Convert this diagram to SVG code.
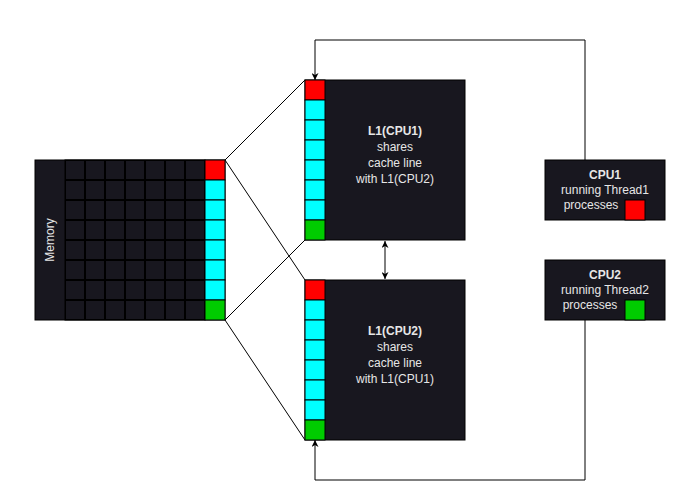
<svg xmlns="http://www.w3.org/2000/svg" width="693" height="500" viewBox="0 0 693 500">
<defs>
<style>
.box{fill:#18171f;stroke:#000;stroke-width:1}
.cell{fill:#18171f;stroke:#000;stroke-width:1}
.cy{fill:#00ffff;stroke:#000;stroke-width:1}
.rd{fill:#ff0000;stroke:#000;stroke-width:1}
.gr{fill:#00cc00;stroke:#000;stroke-width:1}
.t{font-family:"Liberation Sans",Arial,sans-serif;font-size:12px;fill:#e6e6e6;text-anchor:middle}
.b{font-weight:bold}
.ln{fill:none;stroke:#000;stroke-width:1}
</style>
<marker id="ah" viewBox="0 0 10 10" refX="10" refY="5" markerWidth="7" markerHeight="7" orient="auto-start-reverse" markerUnits="userSpaceOnUse">
<path d="M0,0 L10,5 L0,10 L3,5 z" fill="#000"/>
</marker>
<pattern id="grid" x="65" y="160" width="20" height="20" patternUnits="userSpaceOnUse">
<rect x="0" y="0" width="20" height="20" fill="#18171f" stroke="#000" stroke-width="2"/>
</pattern>
</defs>

<g id="connectors">
<path class="ln" d="M225,160 L305,80"/>
<path class="ln" d="M225,160 L305,280"/>
<path class="ln" d="M225,320 L305,240"/>
<path class="ln" d="M225,320 L305,440"/>
<path class="ln" d="M585,160 L585,40 L315,40 L315,80" marker-end="url(#ah)"/>
<path class="ln" d="M585,320 L585,480 L315,480 L315,440" marker-end="url(#ah)"/>
<path class="ln" d="M385,241 L385,279" marker-start="url(#ah)" marker-end="url(#ah)"/>
</g>

<g id="memory">
<rect class="box" x="35" y="160" width="190" height="160"/>
<rect x="65" y="160" width="140" height="160" fill="url(#grid)" stroke="#000"/>
<rect class="rd" x="205" y="160" width="20" height="20"/>
<rect class="cy" x="205" y="180" width="20" height="20"/>
<rect class="cy" x="205" y="200" width="20" height="20"/>
<rect class="cy" x="205" y="220" width="20" height="20"/>
<rect class="cy" x="205" y="240" width="20" height="20"/>
<rect class="cy" x="205" y="260" width="20" height="20"/>
<rect class="cy" x="205" y="280" width="20" height="20"/>
<rect class="gr" x="205" y="300" width="20" height="20"/>
<text class="t" transform="translate(54,240) rotate(-90)">Memory</text>
</g>

<g id="l1cpu1">
<rect class="box" x="305" y="80" width="160" height="160"/>
<rect class="rd" x="305" y="80" width="20" height="20"/>
<rect class="cy" x="305" y="100" width="20" height="20"/>
<rect class="cy" x="305" y="120" width="20" height="20"/>
<rect class="cy" x="305" y="140" width="20" height="20"/>
<rect class="cy" x="305" y="160" width="20" height="20"/>
<rect class="cy" x="305" y="180" width="20" height="20"/>
<rect class="cy" x="305" y="200" width="20" height="20"/>
<rect class="gr" x="305" y="220" width="20" height="20"/>
<text class="t b" x="395" y="135">L1(CPU1)</text>
<text class="t" x="395" y="151">shares</text>
<text class="t" x="395" y="167">cache line</text>
<text class="t" x="395" y="183">with L1(CPU2)</text>
</g>

<g id="l1cpu2">
<rect class="box" x="305" y="280" width="160" height="160"/>
<rect class="rd" x="305" y="280" width="20" height="20"/>
<rect class="cy" x="305" y="300" width="20" height="20"/>
<rect class="cy" x="305" y="320" width="20" height="20"/>
<rect class="cy" x="305" y="340" width="20" height="20"/>
<rect class="cy" x="305" y="360" width="20" height="20"/>
<rect class="cy" x="305" y="380" width="20" height="20"/>
<rect class="cy" x="305" y="400" width="20" height="20"/>
<rect class="gr" x="305" y="420" width="20" height="20"/>
<text class="t b" x="395" y="335">L1(CPU2)</text>
<text class="t" x="395" y="351">shares</text>
<text class="t" x="395" y="367">cache line</text>
<text class="t" x="395" y="383">with L1(CPU1)</text>
</g>

<g id="cpu1">
<rect class="box" x="545" y="160" width="120" height="60"/>
<text class="t b" x="605" y="179">CPU1</text>
<text class="t" x="605" y="194">running Thread1</text>
<text class="t" x="591" y="209">processes</text>
<rect class="rd" x="625" y="200" width="20" height="20"/>
</g>

<g id="cpu2">
<rect class="box" x="545" y="260" width="120" height="60"/>
<text class="t b" x="605" y="279">CPU2</text>
<text class="t" x="605" y="294">running Thread2</text>
<text class="t" x="590" y="309">processes</text>
<rect class="gr" x="625" y="300" width="20" height="20"/>
</g>
</svg>
